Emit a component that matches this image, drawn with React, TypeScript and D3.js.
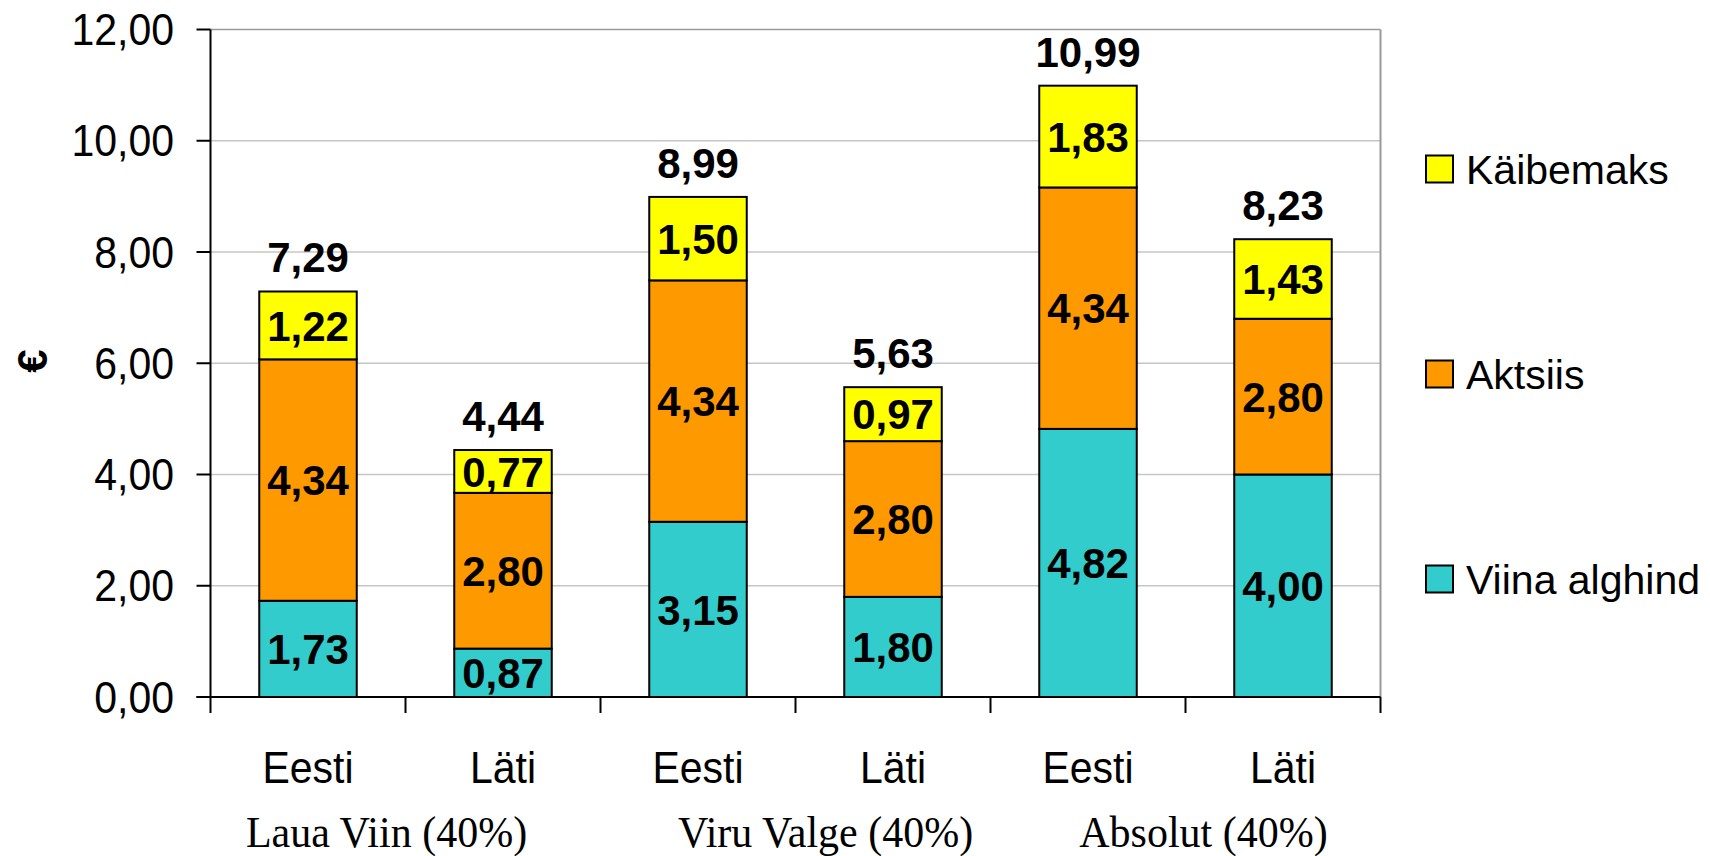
import React from "react";
import { scaleBand, scaleLinear, range } from "d3";

const categories = ["Eesti", "Läti", "Eesti", "Läti", "Eesti", "Läti"];
const groups = ["Laua Viin (40%)", "Viru Valge (40%)", "Absolut (40%)"];

const seriesNames = ["Viina alghind", "Aktsiis", "Käibemaks"];
const alghind = [1.73, 0.87, 3.15, 1.8, 4.82, 4.0];
const aktsiis = [4.34, 2.8, 4.34, 2.8, 4.34, 2.8];
const kaibemaks = [1.22, 0.77, 1.5, 0.97, 1.83, 1.43];
const totals = [7.29, 4.44, 8.99, 5.63, 10.99, 8.23];

const yTicks = [0, 2, 4, 6, 8, 10, 12];

const colors = ["#33cccc", "#ff9900", "#ffff00"];
const series = [alghind, aktsiis, kaibemaks];

const W = 1710;
const H = 856;
const left = 210.5;
const right = 1380.5;
const top = 29.5;
const bottom = 697;
const font = "'Liberation Sans', Arial, sans-serif";
const fmt = (v: number) => v.toFixed(2).replace(".", ",");
// group captions are not exactly centred in the original
const groupNudge = [-19, 30, 18];
// the source image is slightly stretched vertically
const stretch = 1.07;

export default function App() {
  const x = scaleBand<number>()
    .domain(range(categories.length))
    .range([left, right])
    .paddingInner(0.5)
    .paddingOuter(0.25);
  const y = scaleLinear().domain([0, 12]).range([bottom, top]);
  const step = x.step();
  const bw = x.bandwidth();

  // stacked segments
  const stacks = categories.map((_, i) => {
    let base = 0;
    return series.map((s, k) => {
      const seg = { y0: base, y1: base + s[i], v: s[i], k };
      base += s[i];
      return seg;
    });
  });

  return (
    <svg
      width={W}
      height={H}
      style={{ position: "absolute", left: 0, top: 0, background: "#fff" }}
      fontFamily={font}
    >
      {/* gridlines */}
      {yTicks.slice(1, -1).map((t) => (
        <line key={t} x1={left} x2={right} y1={y(t)} y2={y(t)} stroke="#c6c6c6" strokeWidth={1.6} />
      ))}
      <line x1={left} x2={right} y1={y(12)} y2={y(12)} stroke="#9a9a9a" strokeWidth={1.6} />
      <line x1={right} x2={right} y1={y(12)} y2={bottom} stroke="#9a9a9a" strokeWidth={2} />

      {/* bars */}
      {stacks.map((segs, i) =>
        segs.map((s) => (
          <rect
            key={`${i}-${s.k}`}
            x={x(i)}
            y={y(s.y1)}
            width={bw}
            height={y(s.y0) - y(s.y1)}
            fill={colors[s.k]}
            stroke="#000"
            strokeWidth={2}
          />
        ))
      )}

      {/* segment labels */}
      {stacks.map((segs, i) =>
        segs.map((s) => (
          <text
            key={`l${i}-${s.k}`}
            x={(x(i) ?? 0) + bw / 2}
            y={(y(s.y0) + y(s.y1)) / 2}
            dy="0.36em"
            textAnchor="middle"
            fontWeight="bold"
            fontSize={42}
          >
            {fmt(s.v)}
          </text>
        ))
      )}

      {/* total labels */}
      {stacks.map((segs, i) => (
        <text
          key={`t${i}`}
          x={(x(i) ?? 0) + bw / 2}
          y={y(segs[segs.length - 1].y1) - 19}
          textAnchor="middle"
          fontWeight="bold"
          fontSize={42}
        >
          {fmt(totals[i])}
        </text>
      ))}

      {/* axes */}
      <line x1={left} x2={left} y1={top} y2={bottom} stroke="#000" strokeWidth={2} />
      <line x1={left - 14} x2={right} y1={bottom} y2={bottom} stroke="#000" strokeWidth={2} />
      {yTicks.map((t) => (
        <g key={`yt${t}`}>
          <line x1={left - 14} x2={left} y1={y(t)} y2={y(t)} stroke="#000" strokeWidth={2} />
          <text
            transform={`translate(174,${y(t) + 15.5}) scale(1,${stretch})`}
            textAnchor="end"
            fontSize={41}
          >
            {fmt(t)}
          </text>
        </g>
      ))}
      {range(categories.length + 1).map((i) => (
        <line
          key={`xt${i}`}
          x1={left + i * step}
          x2={left + i * step}
          y1={bottom}
          y2={bottom + 16}
          stroke="#000"
          strokeWidth={2}
        />
      ))}
      {categories.map((c, i) => (
        <text
          key={`c${i}`}
          transform={`translate(${(x(i) ?? 0) + bw / 2},783) scale(1,${stretch})`}
          textAnchor="middle"
          fontSize={41}
        >
          {c}
        </text>
      ))}
      {groups.map((g, j) => (
        <text
          key={g}
          transform={`translate(${left + (2 * j + 1) * step + groupNudge[j]},847) scale(1,${stretch})`}
          textAnchor="middle"
          fontSize={42}
          fontFamily="'Liberation Serif', 'Times New Roman', serif"
        >
          {g}
        </text>
      ))}

      {/* y axis title */}
      <text
        transform={`translate(47,361) rotate(-90)`}
        textAnchor="middle"
        fontWeight="bold"
        fontSize={42}
      >
        €
      </text>

      {/* legend */}
      {seriesNames
        .map((n, k) => ({ n, k }))
        .reverse()
        .map(({ n, k }, r) => {
          const cy = 169 + r * 205;
          return (
            <g key={n}>
              <rect x={1426} y={cy - 13.5} width={27} height={27} fill={colors[k]} stroke="#000" strokeWidth={2} />
              <text x={1466} y={cy + 14.5} fontSize={41}>
                {n}
              </text>
            </g>
          );
        })}
    </svg>
  );
}
